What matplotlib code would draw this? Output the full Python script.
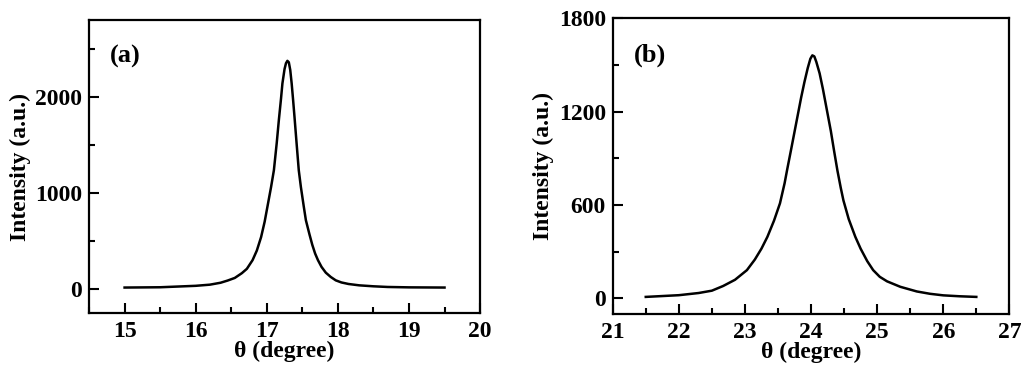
import numpy as np
import matplotlib
matplotlib.use("Agg")
from matplotlib import pyplot as plt
from matplotlib.ticker import MultipleLocator

# panel (a): peak near 17.3 degree
theta_a = [15.0, 15.5, 16.0, 16.2, 16.35, 16.45, 16.55, 16.65, 16.72, 16.8, 16.86,
           16.92, 16.97, 17.02, 17.06, 17.1, 17.14, 17.17, 17.2, 17.22, 17.25, 17.27,
           17.29, 17.31, 17.33, 17.35, 17.37, 17.39, 17.42, 17.45, 17.48, 17.52, 17.55,
           17.6, 17.64, 17.68, 17.72, 17.77, 17.83, 17.9, 17.97, 18.05, 18.15, 18.3,
           18.5, 18.7, 19.0, 19.5]
int_a = [15, 18, 33, 45, 65, 88, 115, 165, 210, 300, 400,
         540, 700, 900, 1060, 1236, 1520, 1760, 1980, 2140, 2290, 2350,
         2375, 2360, 2280, 2140, 1970, 1790, 1510, 1236, 1060, 860, 716,
         570, 460, 369, 300, 230, 170, 125, 90, 68, 52, 38,
         28, 21, 17, 15]

# panel (b): peak near 24.0 degree
theta_b = [21.5, 22.0, 22.3, 22.5, 22.67, 22.85, 23.03, 23.15, 23.25, 23.34, 23.44,
           23.53, 23.6, 23.64, 23.7, 23.75, 23.8, 23.85, 23.9, 23.95, 23.99, 24.02,
           24.05, 24.08, 24.13, 24.18, 24.24, 24.3, 24.35, 24.4, 24.45, 24.49, 24.57,
           24.67, 24.75, 24.85, 24.94, 25.04, 25.15, 25.35, 25.6, 25.8, 26.0, 26.25, 26.5]
int_b = [10, 21, 35, 50, 80, 120, 182, 250, 320, 396, 500,
         611, 740, 830, 960, 1070, 1180, 1290, 1390, 1480, 1540, 1562,
         1555, 1520, 1446, 1345, 1210, 1075, 945, 820, 710, 630, 510,
         396, 320, 240, 182, 139, 110, 75, 45, 30, 20, 14, 10]

plt.rcParams['font.family'] = ['Liberation Serif', 'DejaVu Serif']
plt.rcParams['font.weight'] = 'bold'
plt.rcParams['axes.labelweight'] = 'bold'

fig = plt.figure(figsize=(10.21, 3.66), dpi=100)
ax1 = fig.add_axes([0.0872, 0.1448, 0.383, 0.8005])
ax2 = fig.add_axes([0.6001, 0.142, 0.3885, 0.808])

def style(ax, xlim, ylim, xmaj, ymaj, label):
    ax.set_xlim(*xlim)
    ax.set_ylim(*ylim)
    ax.xaxis.set_major_locator(MultipleLocator(xmaj))
    ax.xaxis.set_minor_locator(MultipleLocator(xmaj / 2))
    ax.yaxis.set_major_locator(MultipleLocator(ymaj))
    ax.yaxis.set_minor_locator(MultipleLocator(ymaj / 2))
    ax.tick_params(which='both', direction='in', top=False, right=False, width=1.5,
                   labelsize=17)
    ax.tick_params(which='major', length=7)
    ax.tick_params(which='minor', length=4)
    ax.tick_params(axis='x', pad=6)
    ax.tick_params(axis='y', pad=5)
    for s in ax.spines.values():
        s.set_linewidth(1.6)
    ax.set_xlabel('θ (degree)', fontsize=17, labelpad=-1)
    ax.set_ylabel('Intensity (a.u.)', fontsize=17, labelpad=3)
    ax.text(0.054, 0.874, label, transform=ax.transAxes, fontsize=19,
            fontweight='bold', va='center', ha='left')

ax1.plot(theta_a, int_a, color='black', lw=1.8)
style(ax1, (14.5, 20), (-250, 2800), 1, 1000, '(a)')

ax2.plot(theta_b, int_b, color='black', lw=1.8)
style(ax2, (21, 27), (-100, 1800), 1, 600, '(b)')

plt.savefig('out.png', dpi=100)
